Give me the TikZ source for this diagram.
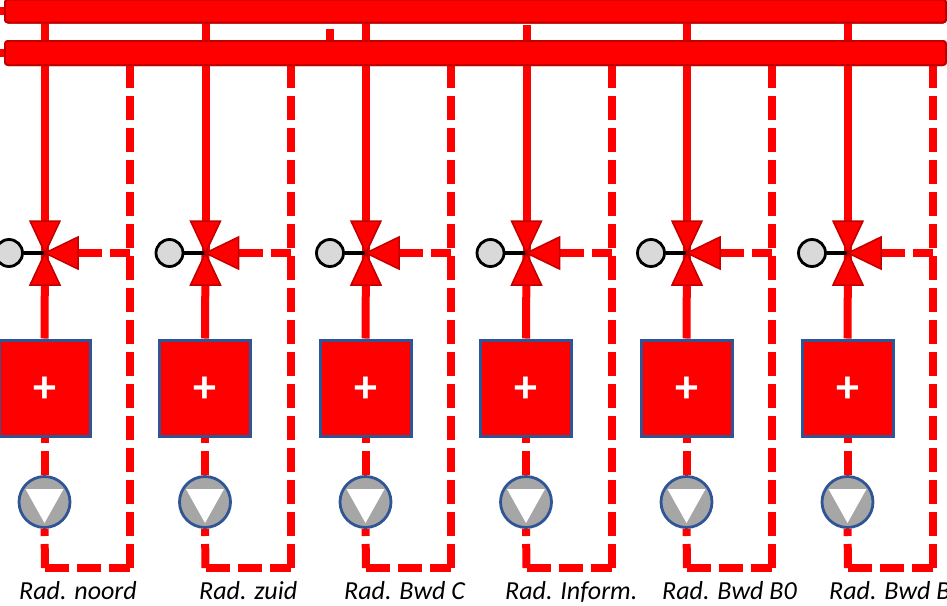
\documentclass[tikz,border=0pt]{standalone}
\usepackage{fontspec}
\setmainfont{Carlito}
\definecolor{rimred}{HTML}{C00000}
\definecolor{rimblue}{HTML}{2F5597}
\definecolor{pumpgray}{HTML}{A6A6A6}
\definecolor{knobgray}{HTML}{D9D9D9}
\tikzset{
  supply/.style={red, line width=8pt},
  retour/.style={red, line width=8pt, dash pattern=on 24pt off 8pt},
  header/.style={draw=rimred, fill=red, line width=2pt, rounded corners=3pt, minimum width=941pt, inner sep=0pt, outer sep=0pt},
  heater/.style={draw=rimblue, fill=red, line width=3pt, minimum width=91pt, minimum height=96pt, inner sep=0pt, text=white, font=\fontsize{46}{46}\selectfont\bfseries},
  pump/.style={circle, draw=rimblue, fill=pumpgray, line width=2.8pt, minimum size=51pt, inner sep=0pt},
  knob/.style={circle, draw=black, fill=knobgray, line width=2.8pt, minimum size=27pt, inner sep=0pt},
  valvetip/.style={draw=rimred, fill=red, line width=1.5pt, line join=miter},
  radlabel/.style={anchor=base west, inner sep=0pt, font=\fontsize{26}{26}\selectfont\itshape}
}
\begin{document}
\begin{tikzpicture}[x=1pt, y=-1pt]
    \useasboundingbox (0,0) rectangle (947,605);
    \clip (0,0) rectangle (947,605);
    \node[header, minimum height=23pt] (hot) at (475.5,11) {};
    \node[header, minimum height=24pt] (back) at (475.5,53) {};
    % small stubs at the left end of the headers
    \coordinate (hotend) at (0,11);
    \coordinate (backend) at (0,53);
    \draw[supply] (hotend) -- (hot.west);
    \draw[supply] (backend) -- (back.west);
    \coordinate (extra) at (330,29);
    \draw[supply] (extra) -- (extra |- back.north);
    \foreach \i/\x/\top in {1/45/22,2/205.5/22,3/366/22,4/526.5/25,5/687/22,6/848/22} {
        \coordinate (valve\i) at (\x,253);
        \coordinate (valveout\i) at (\x+33,253);
        \coordinate (riser\i) at (\x,\top);
        \coordinate (corner\i) at (\x,568);
        \coordinate (turn\i) at (\x+85,568);
        \coordinate (tee\i) at (\x+85,253);
        \node[heater] (heater\i) at (\x-0.5,388) {\raisebox{-14pt}[0pt][0pt]{+}};
        \node[pump] (pump\i) at (\x-0.5,502) {};
        \node[knob] (knob\i) at (\x-36,253) {};
        % pipes
        \draw[supply] (riser\i) -- (valve\i);
        \draw[supply] (heater\i.north) -- (valve\i);
        \draw[retour] (pump\i.north) -- (heater\i.south);
        \draw[retour] (corner\i) -- (pump\i.south);
        \draw[retour] (corner\i) -- (turn\i);
        \draw[retour] (turn\i) -- (turn\i |- back.south);
        \draw[retour] (valveout\i) -- (tee\i);
        \draw[black, line width=3.5pt] (knob\i) -- (valve\i);
        % valve
        \draw[valvetip] (valve\i) -- ++(-15,-32) -- ++(30,0) -- cycle;
        \draw[valvetip] (valve\i) -- ++(-15,32) -- ++(30,0) -- cycle;
        \draw[valvetip] (valve\i) -- ++(33,-16) -- ++(0,32) -- cycle;
        % pump arrow
        \fill[white] (pump\i.center) ++(-19,-13) -- ++(38,0) -- ++(-19,34) -- cycle;
    }
    \node[header, minimum height=23pt] at (hot) {};
    \node[header, minimum height=24pt] at (back) {};
    \foreach \i/\x/\lab in {1/19/Rad. noord,2/199/Rad. zuid,3/344/Rad. Bwd C,4/505/Rad. Inform.,5/662/Rad. Bwd B0,6/829/Rad. Bwd B} {
        \node[radlabel] (rad\i) at (\x,599) {\lab};
    }
\end{tikzpicture}
\end{document}
